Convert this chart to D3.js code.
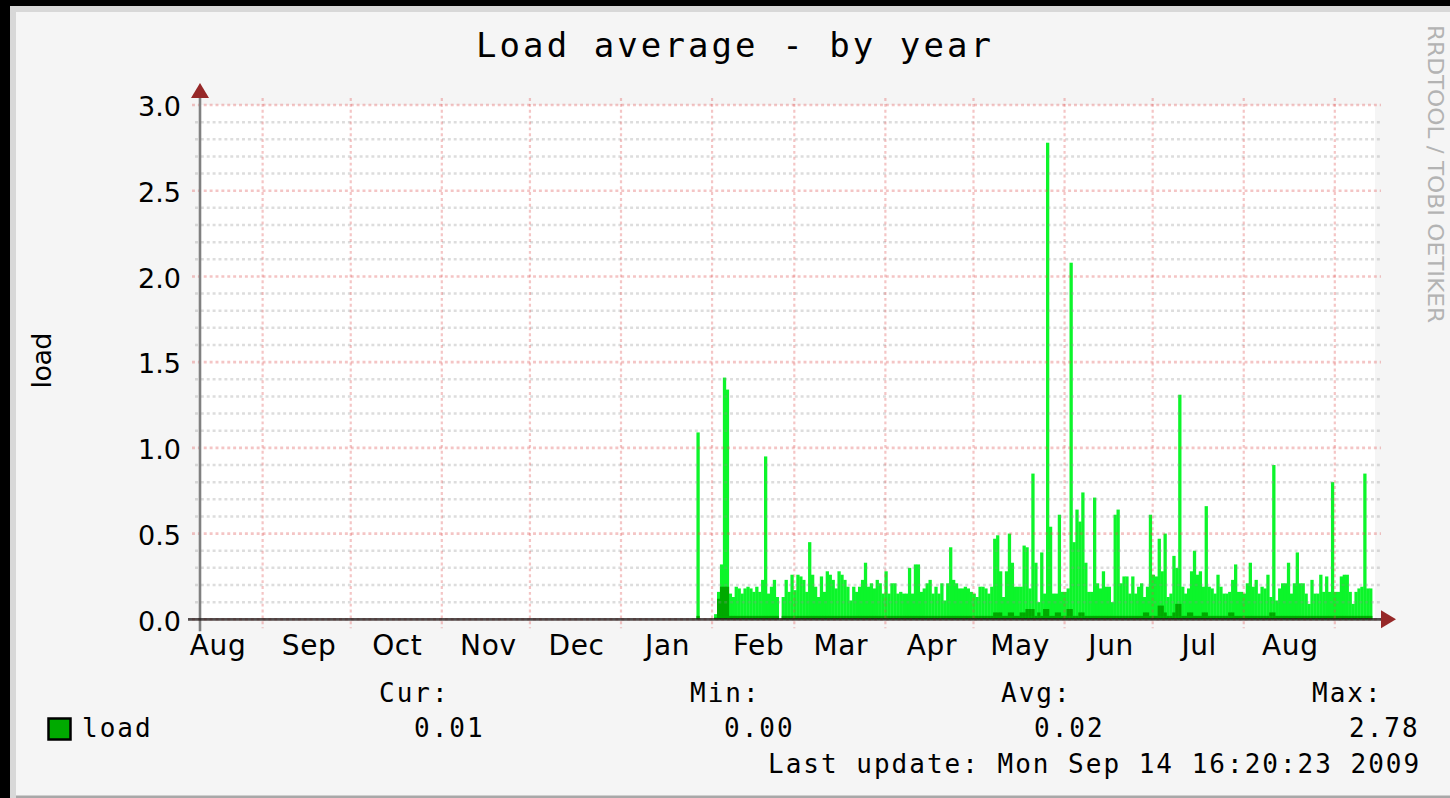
<!DOCTYPE html>
<html>
<head>
<meta charset="utf-8">
<script src="https://cdn.jsdelivr.net/npm/d3@7"></script>
<style>
body { margin:0; background:#f5f5f5; }
svg { display:block; }
</style>
</head>
<body>
<svg id="chart" width="1450" height="798"></svg>
<script>
// one column per day, graph spans 400 days ending at last update
var graphStart = new Date(2008, 7, 10, 16, 20);
var graphEnd = new Date(2009, 8, 14, 16, 20);
var firstColumn = new Date(2009, 0, 26, 16, 20);

// daily maximum of the load (bright area)
var maxLoad = [1.09, null, null, null, null, null,
    0.03, 0.16, 0.32, 1.41, 1.34, 0.15, 0.13, 0.19, 0.18, 0.15,
    0.18, 0.19, 0.18, 0.16, 0.19, 0.16, 0.23, 0.95, 0.15, 0.19,
    0.23, 0.13, 0, 0.13, 0.23, 0.16, 0.26, 0.17, 0.26, 0.25,
    0.23, 0.16, 0.45, 0.26, 0.19, 0.13, 0.25, 0.16, 0.28, 0.26,
    0.23, 0.18, 0.28, 0.26, 0.23, 0.19, 0.11, 0.19, 0.16, 0.19,
    0.23, 0.33, 0.19, 0.21, 0.18, 0.23, 0.21, 0.15, 0.28, 0.15,
    0.21, 0.21, 0.15, 0.16, 0.15, 0.15, 0.30, 0.15, 0.32, 0.32,
    0.16, 0.18, 0.21, 0.23, 0.15, 0.19, 0.15, 0.21, 0.11, 0.21,
    0.42, 0.23, 0.21, 0.18, 0.18, 0.19, 0.18, 0.16, 0.15, 0.13,
    0.19, 0.19, 0.18, 0.15, 0.19, 0.47, 0.49, 0.28, 0.13, 0.28,
    0.50, 0.33, 0.19, 0.19, 0.19, 0.43, 0.42, 0.18, 0.85, 0.33,
    0.10, 0.39, 0.15, 2.78, 0.54, 0.15, 0.15, 0.61, 0.16, 0.16,
    0.18, 2.08, 0.45, 0.64, 0.57, 0.74, 0.33, 0.16, 0.16, 0.71,
    0.21, 0.18, 0.28, 0.19, 0.19, 0.10, 0.61, 0.64, 0.21, 0.25,
    0.25, 0.15, 0.25, 0.15, 0.19, 0.21, 0.13, 0.19, 0.61, 0.26,
    0.25, 0.47, 0.28, 0.50, 0.13, 0.15, 0.37, 0.30, 1.31, 0.19,
    0.15, 0.18, 0.28, 0.40, 0.26, 0.28, 0.19, 0.66, 0.19, 0.18,
    0.15, 0.26, 0.19, 0.15, 0.15, 0.16, 0.23, 0.32, 0.16, 0.16,
    0.15, 0.21, 0.33, 0.19, 0.23, 0.15, 0.19, 0.18, 0.26, 0.13,
    0.90, 0.11, 0.18, 0.21, 0.21, 0.33, 0.15, 0.21, 0.39, 0.21,
    0.21, 0.15, 0.09, 0.23, 0.15, 0.15, 0.26, 0.16, 0.25, 0.16,
    0.80, 0.16, 0.16, 0.25, 0.26, 0.26, 0.16, 0.09, 0.16, 0.18,
    0.19, 0.85, 0.18, 0.18];

// daily average of the load (dark area)
var avgLoad = [0.02, null, null, null, null, null,
    0.01, 0.12, 0.19, 0.19, 0.19, 0.02, 0.02, 0.02, 0.02, 0.02,
    0.02, 0.02, 0.02, 0.02, 0.02, 0.02, 0.02, 0.02, 0.02, 0.02,
    0.02, 0.02, 0, 0.02, 0.02, 0.02, 0.02, 0.02, 0.02, 0.02,
    0.02, 0.02, 0.02, 0.02, 0.02, 0.02, 0.02, 0.02, 0.02, 0.02,
    0.02, 0.02, 0.02, 0.02, 0.02, 0.02, 0.02, 0.02, 0.02, 0.02,
    0.02, 0.02, 0.02, 0.02, 0.02, 0.02, 0.02, 0.02, 0.02, 0.02,
    0.02, 0.02, 0.02, 0.02, 0.02, 0.02, 0.02, 0.02, 0.02, 0.02,
    0.02, 0.02, 0.02, 0.02, 0.02, 0.02, 0.02, 0.02, 0.02, 0.02,
    0.02, 0.02, 0.02, 0.02, 0.02, 0.02, 0.02, 0.02, 0.02, 0.02,
    0.02, 0.02, 0.02, 0.02, 0.02, 0.04, 0.04, 0.04, 0.02, 0.02,
    0.04, 0.04, 0.02, 0.02, 0.04, 0.04, 0.06, 0.06, 0.06, 0.02,
    0.04, 0.02, 0.06, 0.06, 0.02, 0.02, 0.04, 0.04, 0.02, 0.02,
    0.06, 0.06, 0.02, 0.02, 0.04, 0.04, 0.02, 0.02, 0.02, 0.02,
    0.02, 0.02, 0.02, 0.02, 0.02, 0.02, 0.02, 0.02, 0.02, 0.02,
    0.02, 0.02, 0.02, 0.02, 0.02, 0.02, 0.04, 0.04, 0.02, 0.02,
    0.02, 0.08, 0.08, 0.04, 0.02, 0.02, 0.04, 0.09, 0.09, 0.02,
    0.02, 0.04, 0.04, 0.02, 0.02, 0.02, 0.04, 0.04, 0.02, 0.02,
    0.02, 0.02, 0.02, 0.02, 0.02, 0.04, 0.04, 0.02, 0.02, 0.02,
    0.02, 0.02, 0.02, 0.02, 0.02, 0.02, 0.02, 0.02, 0.02, 0.04,
    0.04, 0.02, 0.02, 0.02, 0.02, 0.02, 0.02, 0.02, 0.02, 0.02,
    0.02, 0.02, 0.02, 0.02, 0.02, 0.02, 0.02, 0.02, 0.02, 0.02,
    0.02, 0.02, 0.02, 0.02, 0.02, 0.02, 0.02, 0.02, 0.02, 0.02,
    0.02, 0.02, 0.02, 0.02];

var yTicks = [0.0, 0.5, 1.0, 1.5, 2.0, 2.5, 3.0];
var legendHeads = ["Cur:", "Min:", "Avg:", "Max:"];
var legendValues = ["0.01", "0.00", "0.02", "2.78"];
var legendName = "load";
var lastUpdate = "Last update: Mon Sep 14 16:20:23 2009";
var title = "Load average - by year";

var gColors = {MAX:"#0cf52a", AVG:"#00aa00", MGRID:"rgba(222,80,80,0.33)", GRID:"rgba(143,143,143,0.3)",
               ARROW:"#962828", AXIS:"rgba(30,20,20,0.75)", YAXIS:"#808080", FONT:"#000"};
var gMono = "'DejaVu Sans Mono', monospace";
var gSans = "'DejaVu Sans', sans-serif";

var svg = d3.select("#chart");
var width = 1450, height = 798;
var plot = {left:200, right:1375, top:105, bottom:619.3};

var x = d3.scaleTime().domain([graphStart, graphEnd]).range([plot.left, plot.right]);
var y = d3.scaleLinear().domain([0, 3]).range([plot.bottom, plot.top]);

// frame
svg.append("rect").attr("width", width).attr("height", height).attr("fill", "#f5f5f5");
svg.append("rect").attr("x", 10).attr("y", 6).attr("width", 6).attr("height", height).attr("fill", "#d8d8d8");
svg.append("rect").attr("x", 10).attr("y", 6).attr("width", width).attr("height", 6).attr("fill", "#d8d8d8");
svg.append("rect").attr("x", 16).attr("y", 795.5).attr("width", width).attr("height", 3).attr("fill", "#a8a8a8");
svg.append("rect").attr("x", 0).attr("y", 0).attr("width", 10).attr("height", height).attr("fill", "#000");
svg.append("rect").attr("x", 0).attr("y", 0).attr("width", width).attr("height", 6).attr("fill", "#000");

// canvas
svg.append("rect")
    .attr("x", plot.left).attr("y", plot.top)
    .attr("width", plot.right - plot.left).attr("height", plot.bottom - plot.top)
    .attr("fill", "#fff");

function drawBars(values, color) {
    var cols = values.map(function(v, i) {
        return {t0: d3.timeDay.offset(firstColumn, i), t1: d3.timeDay.offset(firstColumn, i + 1), v: v};
    }).filter(function(d) { return d.v != null && d.v > 0; });

    svg.append("g").selectAll("rect")
        .data(cols)
        .enter().append("rect")
        .attr("x", function(d) { return x(d.t0); })
        .attr("width", function(d) { return x(d.t1) - x(d.t0) + 0.35; })
        .attr("y", function(d) { return y(d.v); })
        .attr("height", function(d) { return y(0) - y(d.v); })
        .attr("fill", color);
}//drawBars

drawBars(maxLoad, gColors.MAX);
drawBars(avgLoad, gColors.AVG);

// grid, drawn over the areas like rrdtool does
var minor = d3.range(1, 30).filter(function(i) { return i % 5 != 0; }).map(function(i) { return i / 10; });
svg.append("g").selectAll("line")
    .data(minor)
    .enter().append("line")
    .attr("x1", plot.left - 5).attr("x2", plot.right + 6)
    .attr("y1", function(d) { return y(d); }).attr("y2", function(d) { return y(d); })
    .attr("stroke", gColors.GRID)
    .attr("stroke-width", 2.5)
    .attr("stroke-dasharray", "2.94,2.94");

svg.append("g").selectAll("line")
    .data(yTicks)
    .enter().append("line")
    .attr("x1", plot.left - 8).attr("x2", plot.right + 6)
    .attr("y1", function(d) { return y(d); }).attr("y2", function(d) { return y(d); })
    .attr("stroke", gColors.MGRID)
    .attr("stroke-width", 2.6)
    .attr("stroke-dasharray", "2.94,2.94");

var monthStarts = d3.timeMonth.range(d3.timeMonth.ceil(graphStart), graphEnd);
svg.append("g").selectAll("line")
    .data(monthStarts)
    .enter().append("line")
    .attr("x1", function(d) { return x(d); }).attr("x2", function(d) { return x(d); })
    .attr("y1", plot.top - 7).attr("y2", plot.bottom + 9)
    .attr("stroke", gColors.MGRID)
    .attr("stroke-width", 2.2)
    .attr("stroke-dasharray", "2.94,2.94");

// axes lines and arrows
svg.append("line")
    .attr("x1", plot.left).attr("x2", plot.left)
    .attr("y1", plot.top - 8).attr("y2", plot.bottom + 12)
    .attr("stroke", gColors.YAXIS).attr("stroke-width", 2.6);
svg.append("line")
    .attr("x1", plot.left - 12).attr("x2", plot.right + 6)
    .attr("y1", plot.bottom).attr("y2", plot.bottom)
    .attr("stroke", gColors.AXIS).attr("stroke-width", 2.8);
svg.append("path")
    .attr("d", "M" + (plot.left - 9) + "," + (plot.top - 7) + "L" + (plot.left + 9) + "," + (plot.top - 7) +
               "L" + plot.left + "," + (plot.top - 22) + "Z")
    .attr("fill", gColors.ARROW);
svg.append("path")
    .attr("d", "M" + (plot.right + 6) + "," + (plot.bottom - 9) + "L" + (plot.right + 6) + "," + (plot.bottom + 9) +
               "L" + (plot.right + 21) + "," + plot.bottom + "Z")
    .attr("fill", gColors.ARROW);

// month labels sit in the middle of each month
var labelDates = d3.timeMonth.range(d3.timeMonth.floor(graphStart), graphEnd)
    .map(function(m) { return d3.timeHour.offset(m, 376); })
    .filter(function(d) { return d > graphStart && d < graphEnd; });

var xAxis = svg.append("g")
    .attr("transform", "translate(0," + plot.bottom + ")")
    .call(d3.axisBottom(x).tickValues(labelDates).tickFormat(d3.timeFormat("%b")).tickSize(0).tickPadding(16));
xAxis.select(".domain").remove();
xAxis.selectAll("text")
    .attr("fill", gColors.FONT)
    .attr("font-family", gSans)
    .attr("font-size", "28px")
    .attr("letter-spacing", "0.6px");

var yAxis = svg.append("g")
    .attr("transform", "translate(" + plot.left + ",0)")
    .call(d3.axisLeft(y).tickValues(yTicks).tickFormat(d3.format(".1f")).tickSize(0).tickPadding(19));
yAxis.select(".domain").remove();
yAxis.selectAll("text")
    .attr("fill", gColors.FONT)
    .attr("dy", "0.4em")
    .attr("font-family", gSans)
    .attr("font-size", "27px");

// title and axis title
svg.append("text")
    .text(title)
    .attr("x", 733.5).attr("y", 57)
    .attr("text-anchor", "middle")
    .attr("textLength", 515)
    .attr("lengthAdjust", "spacing")
    .attr("font-family", gMono)
    .attr("font-size", "34px")
    .attr("fill", gColors.FONT);

svg.append("text")
    .text("load")
    .attr("transform", "translate(50.5,360.5) rotate(-90)")
    .attr("text-anchor", "middle")
    .attr("textLength", 56)
    .attr("lengthAdjust", "spacing")
    .attr("font-family", gSans)
    .attr("font-size", "27px")
    .attr("fill", gColors.FONT);

svg.append("text")
    .text("RRDTOOL / TOBI OETIKER")
    .attr("transform", "translate(1428,25) rotate(90)")
    .attr("textLength", 298)
    .attr("lengthAdjust", "spacingAndGlyphs")
    .attr("font-family", gSans)
    .attr("font-size", "22px")
    .attr("fill", "#b3b3b3");

// legend
var legend = svg.append("g")
    .attr("font-family", gMono)
    .attr("font-size", "26px")
    .attr("letter-spacing", "2px")
    .attr("fill", gColors.FONT);

legend.append("rect")
    .attr("x", 48.5).attr("y", 718.5)
    .attr("width", 22).attr("height", 21)
    .attr("fill", gColors.AVG)
    .attr("stroke", "#000")
    .attr("stroke-width", 2.5);
legend.append("text").text(legendName).attr("x", 82).attr("y", 737);

var headX = [379, 690, 1001, 1312];
var valueX = [414, 724, 1034, 1349];
legend.selectAll("text.head")
    .data(legendHeads)
    .enter().append("text")
    .attr("class", "head")
    .attr("x", function(d, i) { return headX[i]; })
    .attr("y", 702)
    .text(function(d) { return d; });
legend.selectAll("text.value")
    .data(legendValues)
    .enter().append("text")
    .attr("class", "value")
    .attr("x", function(d, i) { return valueX[i]; })
    .attr("y", 737)
    .text(function(d) { return d; });
legend.append("text").text(lastUpdate).attr("x", 768).attr("y", 773);
</script>
</body>
</html>
